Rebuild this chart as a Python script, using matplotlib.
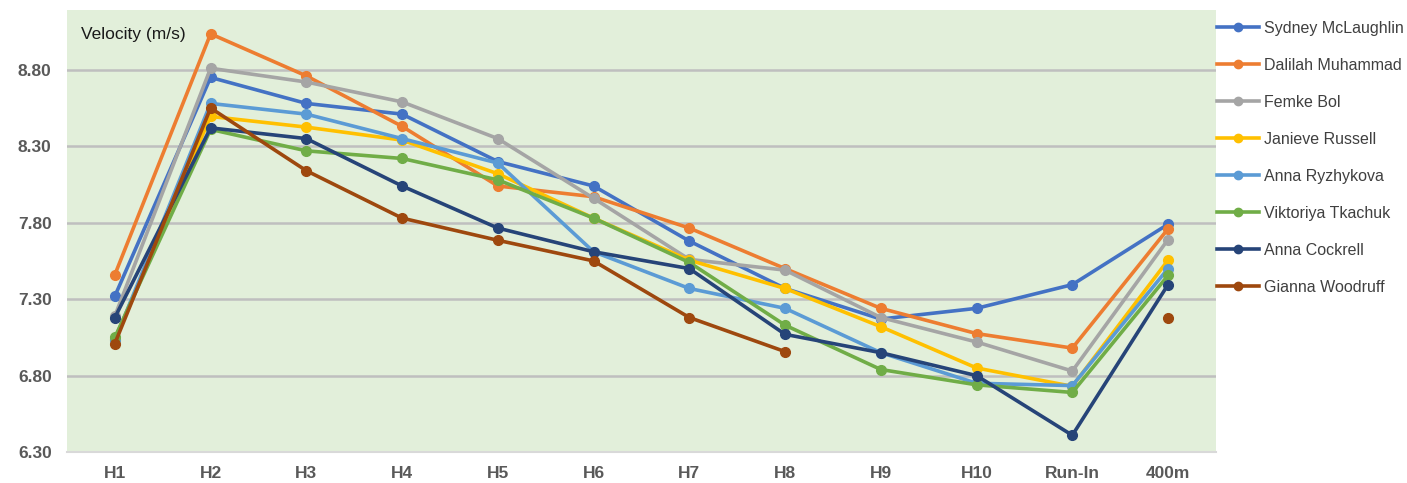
import numpy as np
import matplotlib.pyplot as plt

plt.rcParams['font.family'] = ['Liberation Sans', 'DejaVu Sans']

# категории по оси X
hurdles = ["H1", "H2", "H3", "H4", "H5", "H6", "H7", "H8", "H9", "H10", "Run-In", "400m"]

# скорости (м/с) по каждой спортсменке, nan - нет данных
mclaughlin = [7.32, 8.75, 8.58, 8.51, 8.20, 8.04, 7.68, 7.37, 7.17, 7.24, 7.395, 7.79]
muhammad = [7.46, 9.035, 8.76, 8.43, 8.04, 7.97, 7.765, 7.50, 7.24, 7.075, 6.98, 7.76]
bol = [7.19, 8.81, 8.72, 8.59, 8.35, 7.96, 7.56, 7.49, 7.18, 7.02, 6.83, 7.69]
russell = [7.04, 8.495, 8.425, 8.34, 8.12, 7.83, 7.555, 7.37, 7.12, 6.85, 6.73, 7.555]
ryzhykova = [7.03, 8.58, 8.51, 8.35, 8.19, 7.61, 7.37, 7.24, 6.95, 6.75, 6.735, 7.50]
tkachuk = [7.05, 8.41, 8.27, 8.22, 8.08, 7.83, 7.54, 7.13, 6.84, 6.74, 6.69, 7.455]
cockrell = [7.18, 8.42, 8.35, 8.04, 7.765, 7.61, 7.50, 7.07, 6.95, 6.80, 6.41, 7.395]
woodruff = [7.01, 8.55, 8.14, 7.83, 7.685, 7.55, 7.18, 6.957, np.nan, np.nan, np.nan, 7.18]

names = ["Sydney McLaughlin", "Dalilah Muhammad", "Femke Bol", "Janieve Russell",
         "Anna Ryzhykova", "Viktoriya Tkachuk", "Anna Cockrell", "Gianna Woodruff"]
series = [mclaughlin, muhammad, bol, russell, ryzhykova, tkachuk, cockrell, woodruff]
colors = ["#4472C4", "#ED7D31", "#A5A5A5", "#FFC000", "#5B9BD5", "#70AD47", "#264478", "#9E480E"]

fig = plt.figure(figsize=(14.07, 4.83), dpi=100)
ax = fig.add_axes([0.0476, 0.064, 0.8166, 0.915])  # область графика
ax.set_facecolor("#E2EFDA")

x = np.arange(len(hurdles))
for name, vals, c in zip(names, series, colors):
    ax.plot(x, vals, "-o", color=c, lw=2.6, ms=7, label=name, zorder=3)

yt = [6.30, 6.80, 7.30, 7.80, 8.30, 8.80]
ax.set_xlim(-0.5, len(hurdles) - 0.5)
ax.set_ylim(6.30, 9.19)
ax.set_yticks(yt)
ax.set_yticklabels([f"{v:.2f}" for v in yt])
ax.set_xticks(x)
ax.set_xticklabels(hurdles)
ax.grid(axis="y", color="#BFBFBF", lw=1.8, zorder=1)
ax.set_axisbelow(True)
for s in ["top", "right", "left"]:
    ax.spines[s].set_visible(False)
ax.spines["bottom"].set_color("#D9D9D9")
ax.spines["bottom"].set_linewidth(1.5)
ax.tick_params(length=0, labelsize=12.5, labelcolor="#595959")
ax.tick_params(axis="y", pad=11)
ax.tick_params(axis="x", pad=10)
for lbl in ax.get_xticklabels() + ax.get_yticklabels():
    lbl.set_fontweight("bold")

ax.text(0.012, 0.945, "Velocity (m/s)", transform=ax.transAxes, fontsize=12.5,
        color="#1a1a1a", va="center", ha="left")

leg = fig.legend(loc="upper left", bbox_to_anchor=(0.855, 0.987), frameon=False,
                 fontsize=11.5, handlelength=2.6, handletextpad=0.3, labelspacing=1.38,
                 labelcolor="#404040")
for h in leg.legend_handles:
    h.set_markersize(6)

plt.savefig("out.png", dpi=100)
plt.close()
